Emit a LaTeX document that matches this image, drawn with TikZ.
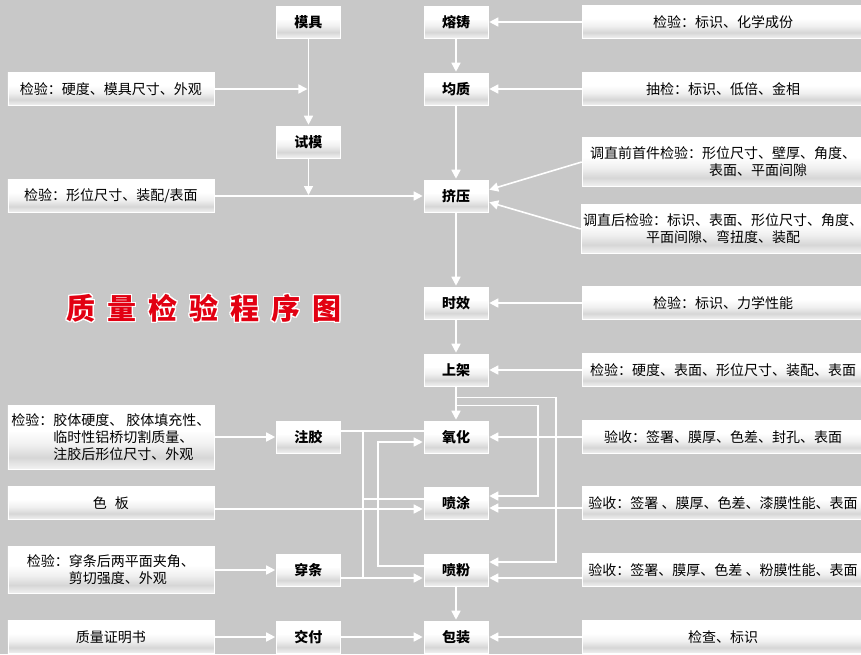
\documentclass[tikz,border=0pt]{standalone}
\usepackage{fontspec}
\setmainfont{Noto Sans CJK SC}
\usepackage{contour}
\usetikzlibrary{positioning}
\usetikzlibrary{arrows.meta}
\usepackage{xcolor}
\definecolor{bggray}{RGB}{200,200,200}
\definecolor{titlered}{RGB}{226,0,18}
\pgfdeclareverticalshading{boxshade}{100bp}{color(0bp)=(black!5); color(25bp)=(black!5); color(34bp)=(black!16); color(44bp)=(black!6); color(55bp)=(white); color(100bp)=(white)}
\contourlength{1.4pt}
\newcommand{\tgap}{\hspace{12pt}}

\begin{document}
\begin{tikzpicture}[node distance=67pt,on grid,
  box/.style={shade,shading=boxshade,draw=white,line width=0.6pt,inner sep=2pt,font=\fontsize{14pt}{17pt}\selectfont},
  proc/.style={box,minimum width=64pt,minimum height=32pt,font=\fontsize{14pt}{17pt}\selectfont\bfseries},
  chk/.style={box,minimum width=206pt,minimum height=33pt,align=center},
  rchk/.style={box,minimum width=282pt,minimum height=33pt,align=center},
  arr/.style={white,line width=1.6pt,-{Triangle[length=9pt,width=9pt]},shorten >=1pt},
  wire/.style={white,line width=1.6pt}]
   % background and frame
   \clip (-456pt,22pt) rectangle (405pt,-632pt);
   \fill[bggray] (-456pt,22pt) rectangle (405pt,-632pt);
   % main process
   \node[proc] (p_zhuzao) {熔铸};
   \node[proc] (p_junzhi) [below=of p_zhuzao] {均质};
   \node[proc] (p_jiya) [below=107pt of p_junzhi] {挤压};
   \node[proc] (p_shixiao) [below=107pt of p_jiya] {时效};
   \node[proc] (p_shangjia) [below=of p_shixiao] {上架};
   \node[proc] (p_yanghua) [below=of p_shangjia] {氧化};
   \node[proc] (p_pentu) [below=66pt of p_yanghua] {喷涂};
   \node[proc] (p_penfen) [below=of p_pentu] {喷粉};
   \node[proc] (p_baozhuang) [below=of p_penfen] {包装};
   % side process
   \node[proc] (p_muju) [left=147.5pt of p_zhuzao] {模具};
   \node[proc] (p_shimo) [below=120pt of p_muju] {试模};
   \node[proc] (p_zhujiao) [left=147.5pt of p_yanghua] {注胶};
   \node[proc] (p_chuantiao) [left=147.5pt of p_penfen] {穿条};
   \node[proc] (p_jiaofu) [left=147.5pt of p_baozhuang] {交付};
   % left checks
   \node[chk] (c_muju) [left=345pt of p_junzhi] {检验：硬度、模具尺寸、外观};
   \node[chk] (c_shimo) [left=345pt of p_jiya] {检验：形位尺寸、装配/表面};
   \node[chk,minimum height=64pt,align=left] (c_zhujiao) [left=197.5pt of p_zhujiao]
     {检验：胶体硬度、\hspace{3pt}胶体填充性、\\\phantom{检验：}临时性铝桥切割质量、\\\phantom{检验：}注胶后形位尺寸、外观};
   \node[chk] (c_seban) [left=345pt of p_pentu] {色\hspace{8pt}板};
   \node[chk,minimum height=47pt,align=left] (c_chuantiao) [left=197.5pt of p_chuantiao]
     {检验：穿条后两平面夹角、\\\phantom{检验：}剪切强度、外观};
   \node[chk] (c_zhengming) [left=197.5pt of p_jiaofu] {质量证明书};
   % right checks
   \node[rchk] (r_zhuzao) [right=267pt of p_zhuzao] {检验：标识、化学成份};
   \node[rchk] (r_junzhi) [right=267pt of p_junzhi] {抽检：标识、低倍、金相};
   \node[rchk,minimum height=49pt] (r_qian) [right=267pt of p_jiya,yshift=34pt]
     {调直前首件检验：形位尺寸、壁厚、角度、\\\hspace*{70pt}表面、平面间隙};
   \node[rchk,minimum height=49pt] (r_hou) [right=267pt of p_jiya,yshift=-33pt]
     {调直后检验：标识、表面、形位尺寸、角度、\\平面间隙、弯扭度、装配};
   \node[rchk] (r_shixiao) [right=267pt of p_shixiao] {检验：标识、力学性能};
   \node[rchk] (r_shangjia) [right=267pt of p_shangjia] {检验：硬度、表面、形位尺寸、装配、表面};
   \node[rchk] (r_yanghua) [right=267pt of p_yanghua] {验收：签署、膜厚、色差、封孔、表面};
   \node[rchk] (r_pentu) [right=267pt of p_pentu] {验收：签署 、膜厚、色差、漆膜性能、表面};
   \node[rchk] (r_penfen) [right=267pt of p_penfen] {验收：签署、膜厚、色差 、粉膜性能、表面};
   \node[rchk] (r_baozhuang) [right=267pt of p_baozhuang] {检查、标识};
   % title
   \node[font=\fontsize{29pt}{30pt}\selectfont\bfseries,text=titlered] (title) [left=252pt of p_shixiao,yshift=-6pt]
     {\contour{white}{质\tgap 量\tgap 检\tgap 验\tgap 程\tgap 序\tgap 图}};
   % flow
   \path[arr]
    (p_zhuzao) edge (p_junzhi)
    (p_junzhi) edge (p_jiya)
    (p_jiya) edge (p_shixiao)
    (p_shixiao) edge (p_shangjia)
    (p_shangjia) edge (p_yanghua)
    (p_penfen) edge (p_baozhuang)
    (p_muju) edge (p_shimo)
    (c_muju) edge (c_muju -| p_muju)
    (p_shimo) edge (p_shimo |- p_jiya)
    (c_shimo) edge (p_jiya);
   \path[arr]
    (r_zhuzao) edge (p_zhuzao)
    (r_junzhi) edge (p_junzhi)
    (r_qian.west) edge ([yshift=6pt]p_jiya.east)
    (r_hou.west) edge ([yshift=-6pt]p_jiya.east)
    (r_shixiao) edge (p_shixiao)
    (r_shangjia) edge (p_shangjia)
    (r_yanghua) edge (p_yanghua)
    ([yshift=-5pt]r_pentu.west) edge ([yshift=-5pt]p_pentu.east)
    ([yshift=-8pt]r_penfen.west) edge ([yshift=-8pt]p_penfen.east)
    (r_baozhuang) edge (p_baozhuang);
   \path[arr]
    (c_zhujiao) edge (p_zhujiao)
    (c_chuantiao) edge (p_chuantiao)
    (c_zhengming) edge (p_jiaofu)
    (p_jiaofu) edge (p_baozhuang)
    ([yshift=-6pt]c_seban.east) edge ([yshift=-6pt]p_pentu.west)
    ([yshift=-8pt]p_chuantiao.east) edge ([yshift=-8pt]p_penfen.west);
   % branches from 上架
   \coordinate (k_a) at ([yshift=-11pt]p_shangjia.south);
   \coordinate (k_b) at ([yshift=-19pt]p_shangjia.south);
   \draw[arr] (k_a) -- ++(100pt,0) |- ([yshift=8pt]p_penfen.east);
   \draw[arr] (k_b) -- ++(82pt,0) |- ([yshift=7pt]p_pentu.east);
   % left junctions
   \coordinate (j_a) at ([xshift=22pt,yshift=6pt]p_zhujiao.east);
   \coordinate (j_b) at ([xshift=22pt,yshift=-8pt]p_chuantiao.east);
   \coordinate (j_c) at ([yshift=4pt]p_pentu.west);
   \draw[wire] ([yshift=6pt]p_zhujiao.east) -- ([yshift=6pt]p_yanghua.west);
   \draw[wire] (j_a) -- (j_b);
   \draw[wire] (j_c) -- (j_c -| j_a);
   \draw[arr] ([yshift=4pt]p_penfen.west) -- ++(-46pt,0) |- ([yshift=-5pt]p_yanghua.west);
\end{tikzpicture}
\end{document}
